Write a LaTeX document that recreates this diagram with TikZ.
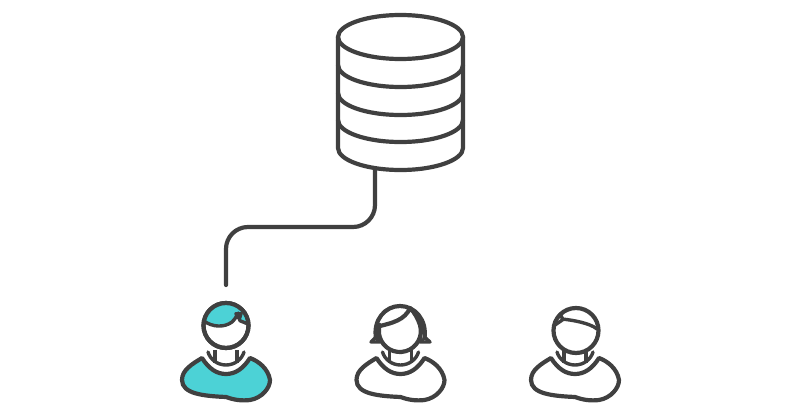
\documentclass[tikz,border=0pt]{standalone}
\definecolor{ink}{RGB}{64,64,64}
\definecolor{aqua}{RGB}{76,210,214}
\usetikzlibrary{arrows.meta,positioning}
\tikzset{
  line/.style={draw=ink,line width=4.2pt,line cap=round,line join=round},
  thinline/.style={line,line width=3.4pt},
  wire/.style={line,rounded corners=22pt},
  shirtfill/.initial=white,
  bodypart/.pic={
    \draw[line,fill=\pgfkeysvalueof{/tikz/shirtfill}] (-24,0) .. controls (-34,6) and (-44,12) .. (-44,22)
      .. controls (-44,36) and (-22,38) .. (0,39) .. controls (8,42) and (16,43) .. (24,42)
      .. controls (36,40) and (44,30) .. (44,22) .. controls (42,10) and (32,3) .. (24,0)
      .. controls (17,11) and (9,16) .. (0,16) .. controls (-9,16) and (-17,11) .. (-24,0) -- cycle;
    \draw[thinline] (-18,-6) .. controls (-16,1) and (-9,7) .. (0,7)
      .. controls (9,7) and (16,1) .. (18,-6);
    \draw[thinline,line cap=butt] (-11,-8) -- (-11,5) (11,-8) -- (11,5);
  },
}
\begin{document}
\begin{tikzpicture}[x=1pt,y=-1pt]
  \useasboundingbox (0,0) rectangle (800,407);
  % database
  \foreach \y in {120,93,65} {
    \draw[line] (338,\y) arc[start angle=180,end angle=0,x radius=62.5,y radius=22];
  }
  \draw[line] (338,37) -- (338,148)
    arc[start angle=180,end angle=0,x radius=62.5,y radius=22] -- (463,37);
  \draw[line] (400.5,37) ellipse[x radius=62.5,y radius=22];
  \coordinate (dbout) at (375,170);
  \coordinate (userin) at (226,285);
  \draw[wire] (dbout) -- (375,227) -- (226,227) -- (userin);
  % users
  \pic[shirtfill=aqua] at (226,358) {bodypart};
  \pic at (400.5,358) {bodypart};
  \pic at (575,358) {bodypart};
  % first head
  \draw[line,fill=white] (226,325.5) circle[radius=22.5];
  \fill[aqua] (204,321) .. controls (212,327) and (224,328) .. (232,322) .. controls (235,319) and (237,316) .. (238,313)
    -- (239.5,320.5) -- (248,324)
    arc[start angle=-4,end angle=-167,radius=22] -- cycle;
  \draw[thinline] (204,321) .. controls (212,327) and (224,328) .. (232,322) .. controls (235,319) and (237,316) .. (238,313);
  \draw[thinline,line width=2.6pt,fill=ink] (235.5,313.5) -- (241.5,313.5) -- (239.5,320) -- cycle;
  \draw[thinline] (239.5,320.5) -- (248,324);
  \draw[line] (226,325.5) circle[radius=22.5];
  % second head
  \draw[thinline,fill=white] (376,337) -- (371,342) -- (380,342) -- cycle;
  \draw[thinline,fill=white] (424.5,337) -- (430,342) -- (420,342) -- cycle;
  \draw[line,fill=white] (376,338) .. controls (373,320) and (385,306) .. (400,306)
    .. controls (415,306) and (427,320) .. (424.5,338);
  \draw[line,fill=white] (380,326) .. controls (392,323) and (405,320) .. (410,308)
    .. controls (415,313) and (418,319) .. (420,325)
    arc[start angle=-16.6,end angle=196.6,radius=21];
  % third head
  \draw[line,fill=white] (576,330.5) circle[radius=22.5];
  \draw[thinline] (562,319) .. controls (572,320) and (590,323) .. (597,329);
  \draw[thinline] (560,314) -- (563,319.5) -- (555,325);
\end{tikzpicture}
\end{document}
